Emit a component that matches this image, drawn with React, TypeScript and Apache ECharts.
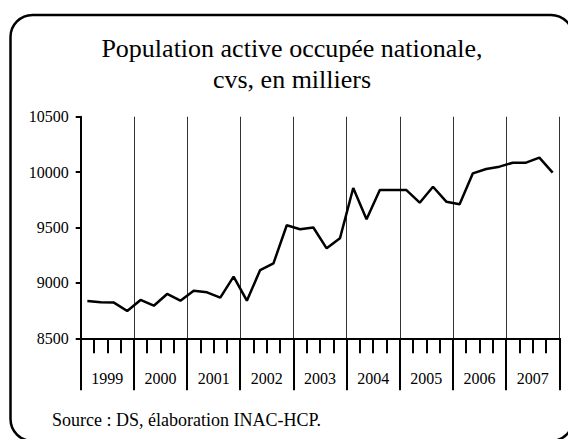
import React, { useEffect, useRef } from "react";
import * as echarts from "echarts";

const years = ["1999", "2000", "2001", "2002", "2003", "2004", "2005", "2006", "2007"];
const quarters = ["T1", "T2", "T3", "T4"];
const quarterCategories = years.flatMap((y) => quarters.map((q) => `${y} ${q}`));
const employment = [
  8837, 8825, 8822, 8746,
  8846, 8794, 8900, 8840,
  8930, 8915, 8867, 9056,
  8840, 9116, 9177, 9520,
  9484, 9500, 9312, 9402,
  9857, 9574, 9838, 9838,
  9838, 9724, 9868, 9733,
  9709, 9989, 10028, 10049,
  10085, 10085, 10130, 9995,
];
const yTicks = [8500, 9000, 9500, 10000, 10500];
const titleLines = ["Population active occupée nationale,", "cvs, en milliers"];
const source = "Source : DS, élaboration INAC-HCP.";

const FONT = "Liberation Serif";

export default function App() {
  const ref = useRef<HTMLDivElement>(null);
  useEffect(() => {
    if (!ref.current) return;
    const chart = echarts.init(ref.current, undefined, { renderer: "svg" });
    chart.setOption({
      animation: false,
      backgroundColor: "#fff",
      textStyle: { fontFamily: FONT },
      grid: { left: 80.7, right: 8.7, top: 116.7, bottom: 100.7 },
      xAxis: [
        {
          type: "category",
          data: quarterCategories,
          position: "bottom",
          boundaryGap: true,
          axisLine: { show: true, lineStyle: { color: "#000", width: 2 } },
          axisTick: { show: true, interval: 0, length: 15, lineStyle: { color: "#000", width: 2 } },
          axisLabel: { show: false },
          splitLine: { show: false },
        },
        {
          type: "category",
          data: years,
          position: "bottom",
          boundaryGap: true,
          axisLine: { show: false },
          axisTick: { show: true, interval: 0, length: 52, lineStyle: { color: "#000", width: 2 } },
          axisLabel: {
            show: true,
            interval: 0,
            margin: 32,
            fontFamily: FONT,
            fontSize: 16,
            color: "#000",
          },
          splitLine: { show: true, interval: 0, lineStyle: { color: "#333", width: 1 } },
        },
      ],
      yAxis: {
        type: "value",
        min: 8500,
        max: 10500,
        interval: 500,
        axisLine: { show: true, lineStyle: { color: "#000", width: 2 } },
        axisTick: { show: true, length: 5, lineStyle: { color: "#000", width: 2 } },
        axisLabel: {
          margin: 12,
          fontFamily: FONT,
          fontSize: 16,
          color: "#000",
          formatter: (v: number) => (yTicks.includes(v) ? String(v) : ""),
        },
        splitLine: { show: false },
      },
      series: [
        {
          type: "line",
          xAxisIndex: 0,
          data: employment,
          showSymbol: false,
          symbol: "none",
          lineStyle: { color: "#000", width: 2.5 },
          z: 5,
        },
      ],
      graphic: [
        {
          type: "rect",
          shape: { x: 10.5, y: 15, width: 562.5, height: 426, r: 22 },
          style: { fill: "none", stroke: "#000", lineWidth: 2.5 },
          silent: true,
          z: 100,
        },
        {
          type: "text",
          x: 292,
          y: 48,
          style: {
            text: titleLines[0],
            fontFamily: FONT,
            fontSize: 26,
            fill: "#000",
            align: "center",
            verticalAlign: "middle",
          },
        },
        {
          type: "text",
          x: 292,
          y: 79,
          style: {
            text: titleLines[1],
            fontFamily: FONT,
            fontSize: 26,
            fill: "#000",
            align: "center",
            verticalAlign: "middle",
          },
        },
        {
          type: "text",
          x: 52,
          y: 420,
          style: {
            text: source,
            fontFamily: FONT,
            fontSize: 18,
            fill: "#000",
            align: "left",
            verticalAlign: "middle",
          },
        },
      ],
    });
    return () => chart.dispose();
  }, []);
  return (
    <div
      ref={ref}
      style={{ position: "fixed", left: 0, top: 0, width: 568, height: 439 }}
    />
  );
}
